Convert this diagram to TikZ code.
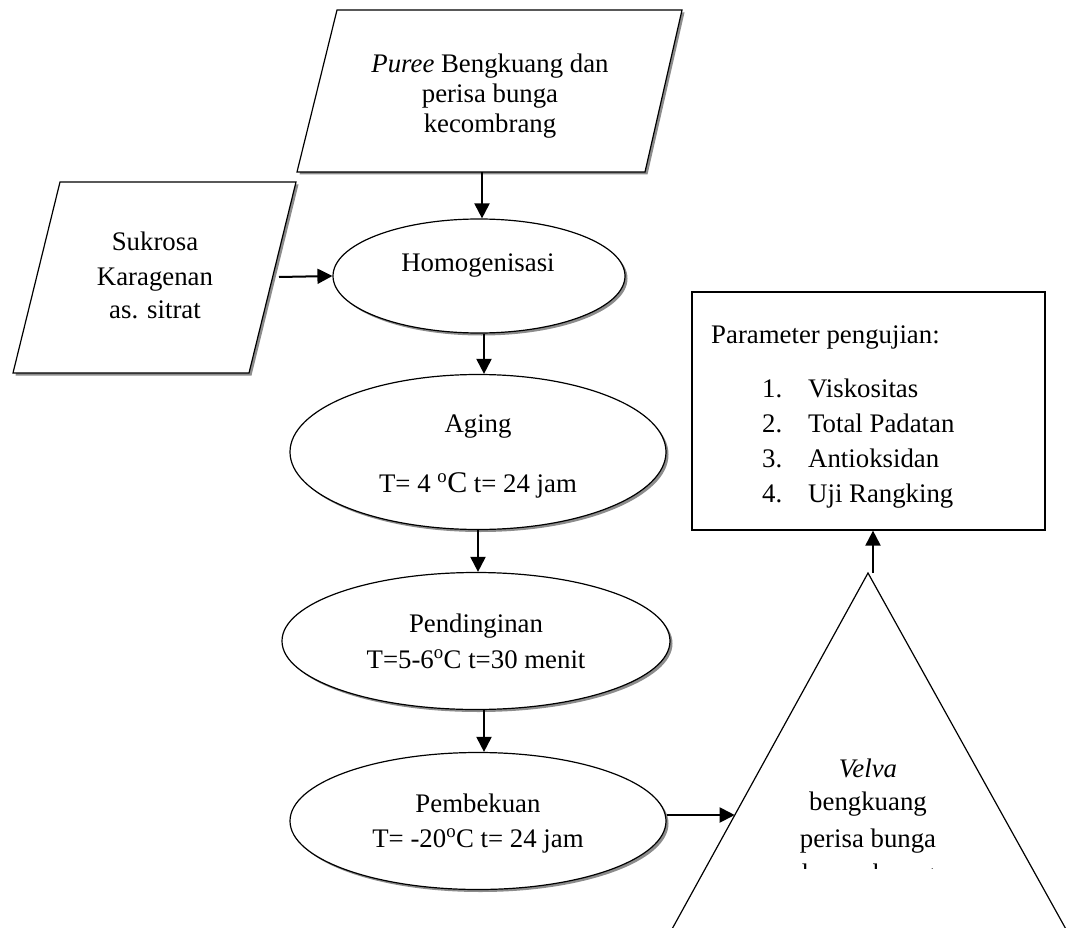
\documentclass[tikz,border=0pt]{standalone}
\usepackage{fontspec}
\setmainfont{Liberation Serif}
\usetikzlibrary{shapes.geometric,arrows.meta,shadows}
\begin{document}
\begin{tikzpicture}[x=1pt,y=-1pt,
  txt/.style={anchor=base,inner sep=0pt,font=\fontsize{26.8}{34}\selectfont},
  txtl/.style={txt,anchor=base west},
  shp/.style={draw=black,line width=1.2pt,fill=white,
    drop shadow={shadow xshift=2.5pt,shadow yshift=-2.5pt,fill=black!45,opacity=1}},
  proc/.style={shp,ellipse,inner sep=0pt},
  plainbox/.style={draw=black,line width=1.2pt,fill=white,inner sep=0pt},
  arr/.style={line width=2pt,-{Triangle[length=15pt,width=15pt]}}]
\useasboundingbox (0,0) rectangle (1073,928);

% input parallelograms
\draw[shp] (337,10) -- (682,10) -- (645,172) -- (297,172) -- cycle;
\coordinate (pureeB) at (482,172);
\node[txt] (pu1) at (490,73) {\textit{Puree} Bengkuang dan};
\node[txt] (pu2) at (490,103) {perisa bunga};
\node[txt] (pu3) at (490,133) {kecombrang};

\draw[shp] (60,182) -- (296,182) -- (249,373) -- (13,373) -- cycle;
\coordinate (sukR) at (279,277);
\node[txt] (su1) at (155,250) {Sukrosa};
\node[txt] (su2) at (155,285) {Karagenan};
\node[txt] (su3) at (155,318) {as. sitrat};

% process ellipses
\node[proc,minimum width=292pt,minimum height=114pt] (homo) at (479,276) {};
\node[txt] (homoT) at (478,271) {Homogenisasi};

\node[proc,minimum width=376pt,minimum height=155pt] (aging) at (478,452) {};
\node[txt] (ag1) at (478,432) {Aging};
\node[txt] (ag2) at (478,492) {T= 4 \textsuperscript{o}{\fontsize{30}{34}\selectfont C} t= 24 jam};

\node[proc,minimum width=388pt,minimum height=137pt] (dingin) at (476,641) {};
\node[txt] (di1) at (476,632) {Pendinginan};
\node[txt] (di2) at (476,668) {T=5-6\textsuperscript{o}C t=30 menit};

\node[proc,minimum width=376pt,minimum height=137pt] (beku) at (478,821) {};
\node[txt] (be1) at (478,812) {Pembekuan};
\node[txt] (be2) at (478,847) {T= -20\textsuperscript{o}C t= 24 jam};

% parameter box
\node[plainbox,minimum width=353pt,minimum height=238pt] (param) at (868.5,411) {};
\node[txtl] (pa0) at (711,343) {Parameter pengujian:};
\node[txtl] (n1) at (762,397) {1.};
\node[txtl] (n2) at (762,432) {2.};
\node[txtl] (n3) at (762,467) {3.};
\node[txtl] (n4) at (762,502) {4.};
\node[txtl] (i1) at (808,397) {Viskositas};
\node[txtl] (i2) at (808,432) {Total Padatan};
\node[txtl] (i3) at (808,467) {Antioksidan};
\node[txtl] (i4) at (808,502) {Uji Rangking};

% output triangle (cut by the page edge)
\begin{scope}
\clip (0,0) rectangle (1073,928);
\coordinate (apex) at (868,573);
\draw[line width=1.2pt] (666,940) -- (apex) -- (1072,940);
\end{scope}
\begin{scope}
\clip (600,700) rectangle (1073,868);
\node[txt] (ve1) at (868,777) {\textit{Velva}};
\node[txt] (ve2) at (868,810) {bengkuang};
\node[txt] (ve3) at (868,847) {perisa bunga};
\node[txt] (ve4) at (868,882) {kecombrang};
\end{scope}
\coordinate (triIn) at (734.7,815);
\coordinate (apexA) at (873,573);

% connectors
\coordinate (h1) at ([xshift=5pt]homo.south);
\coordinate (d1) at ([xshift=8pt]dingin.south);
\coordinate (b1) at ([yshift=6pt]beku.east);
\draw[arr] (pureeB) -- (pureeB |- homo.north);
\draw[arr] (sukR) -- (homo.west);
\draw[arr] (h1) -- (h1 |- aging.north);
\draw[arr] (aging.south) -- (aging.south |- dingin.north);
\draw[arr] (d1) -- (d1 |- beku.north);
\draw[arr] (b1) -- (triIn);
\draw[arr] (apexA) -- (apexA |- param.south);
\end{tikzpicture}
\end{document}
